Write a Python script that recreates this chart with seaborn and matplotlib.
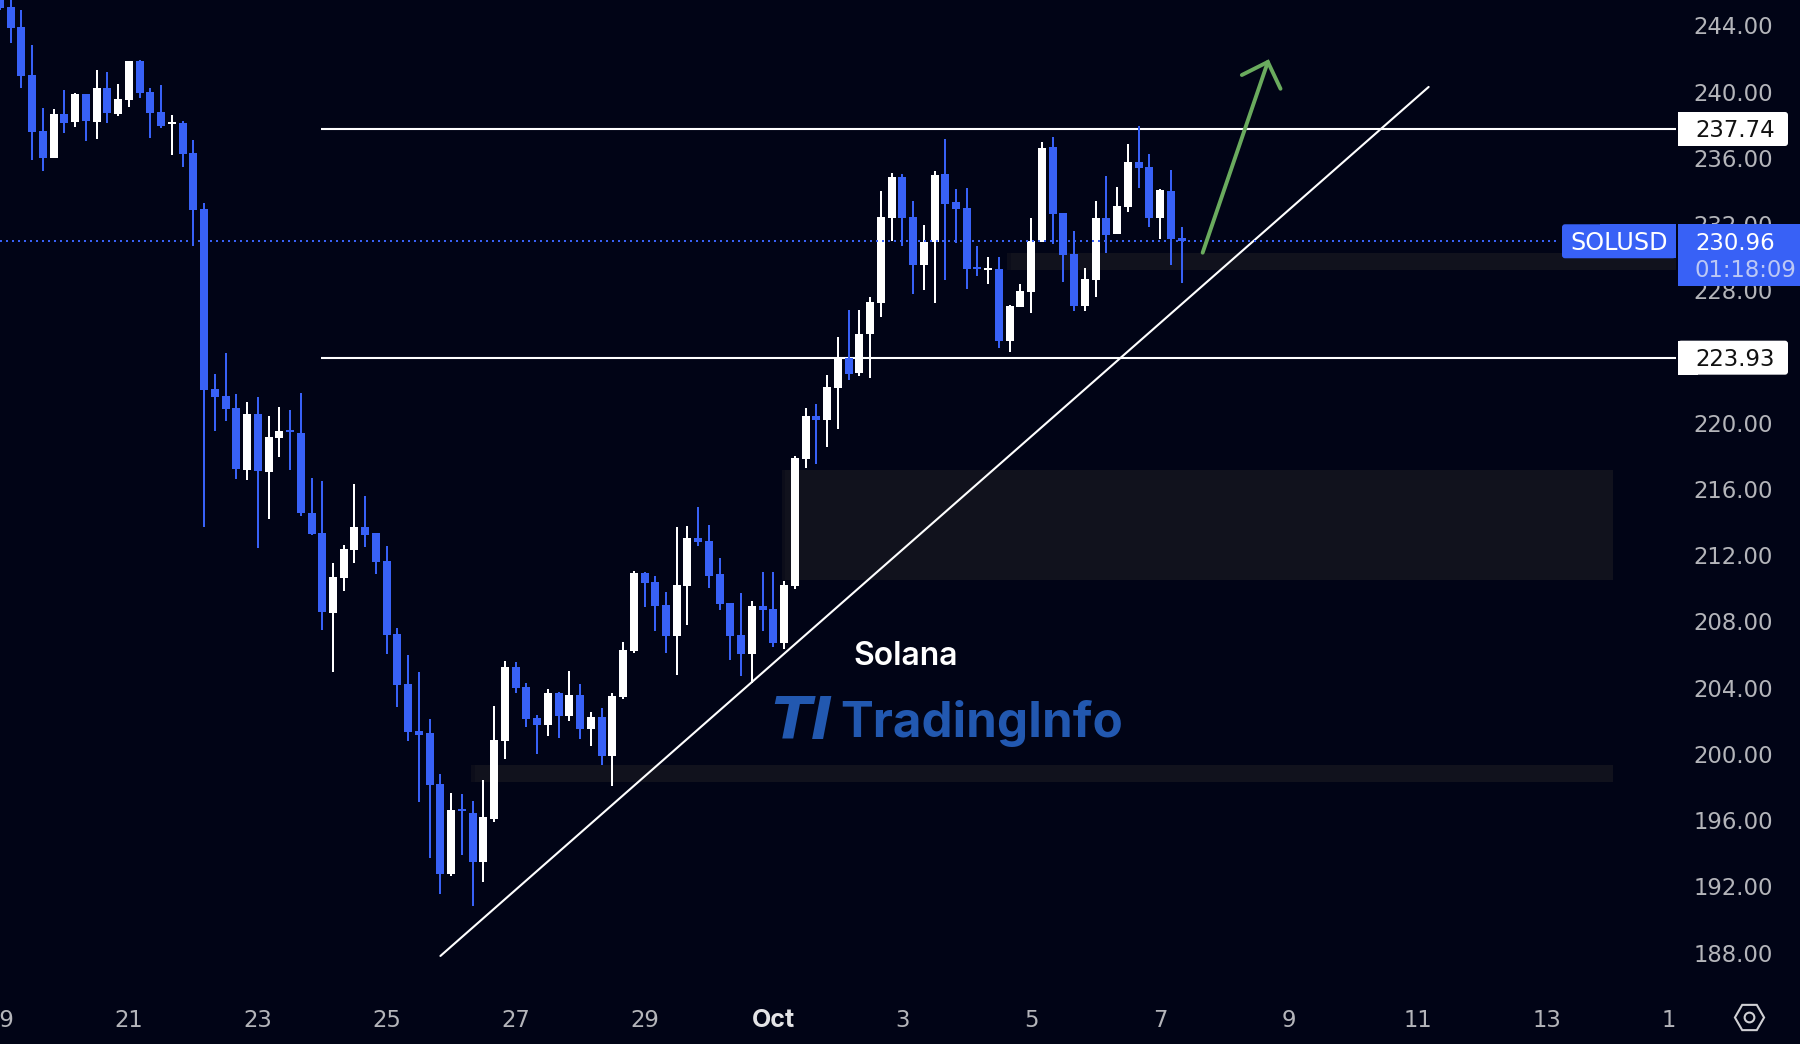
import numpy as np
import pandas as pd
import matplotlib
matplotlib.use('Agg')
import matplotlib.pyplot as plt
from matplotlib.patches import Rectangle, FancyBboxPatch
import seaborn as sns

BG = '#010416'
BLUE = '#3861f6'
GREY = '#b4b5ba'

# 4h candles, first one is half cut off by the left edge
bar_open = [246.00, 245.10, 243.89, 241.00, 237.61, 236.00, 238.65, 238.15, 239.86, 238.15, 240.22, 238.65,
            239.49, 241.84, 239.97, 238.76, 238.07, 238.11, 236.30, 232.91, 222.04, 221.61, 220.90, 217.15,
            220.53, 217.02, 219.09, 219.56, 219.39, 214.56, 213.34, 208.51, 210.62, 212.32, 213.70, 213.34,
            211.65, 207.24, 204.22, 201.38, 201.26, 198.18, 192.75, 196.67, 196.43, 193.47, 196.07, 200.78,
            205.25, 204.04, 202.17, 201.75, 203.68, 202.29, 203.56, 201.51, 202.23, 199.88, 203.44, 206.22,
            210.93, 210.38, 208.99, 207.12, 210.14, 213.04, 212.86, 210.87, 209.11, 207.18, 206.03, 208.93,
            208.75, 206.70, 210.14, 217.81, 220.41, 220.17, 222.10, 223.91, 223.00, 225.36, 227.23, 232.37,
            234.84, 232.43, 229.53, 230.92, 235.02, 233.33, 232.97, 229.41, 229.25, 229.29, 224.94, 226.99,
            227.90, 230.92, 236.65, 232.67, 230.19, 227.05, 228.62, 232.36, 231.40, 233.03, 235.75, 235.44,
            232.36, 234.00, 231.16]
bar_high = [246.30, 245.90, 244.93, 242.81, 239.02, 238.95, 240.09, 239.92, 239.86, 241.30, 241.17, 240.46,
            241.84, 241.91, 240.22, 240.40, 238.58, 238.22, 237.08, 233.28, 222.95, 224.22, 221.74, 221.25,
            221.55, 220.40, 220.94, 220.77, 221.80, 216.67, 216.48, 211.53, 212.62, 216.30, 215.58, 213.34,
            212.56, 207.60, 205.97, 204.95, 202.11, 198.79, 197.64, 197.58, 197.16, 198.43, 202.89, 205.61,
            205.55, 204.28, 202.35, 203.92, 203.74, 205.01, 204.22, 202.53, 202.77, 203.68, 206.76, 211.05,
            210.99, 210.75, 209.78, 213.70, 213.76, 214.91, 213.83, 211.83, 209.11, 209.72, 209.24, 210.99,
            210.99, 210.44, 217.99, 220.89, 221.13, 222.88, 225.18, 226.81, 226.81, 227.59, 233.99, 235.08,
            235.02, 233.39, 231.94, 235.20, 237.14, 234.12, 234.18, 230.67, 230.01, 230.01, 227.11, 228.38,
            232.36, 236.95, 237.26, 232.67, 231.58, 229.35, 233.39, 234.90, 234.24, 236.83, 237.92, 236.23,
            234.12, 235.26, 231.82]
bar_low = [244.90, 242.94, 240.22, 235.87, 235.20, 236.00, 237.51, 237.85, 237.01, 237.14, 238.11, 238.52,
           239.06, 239.62, 237.21, 237.81, 236.17, 235.44, 230.67, 213.69, 219.50, 220.10, 216.61, 216.54,
           212.45, 214.19, 217.92, 217.15, 214.36, 213.22, 207.48, 204.95, 209.84, 211.53, 212.50, 210.87,
           206.03, 202.83, 200.78, 197.10, 193.71, 191.54, 192.63, 193.90, 190.82, 192.27, 195.89, 199.69,
           203.68, 201.63, 200.00, 201.08, 200.96, 201.99, 200.90, 200.48, 199.33, 198.06, 203.32, 206.10,
           208.87, 207.42, 206.10, 204.77, 207.79, 212.56, 210.02, 208.69, 205.67, 204.71, 204.30, 207.42,
           206.46, 206.34, 209.96, 217.27, 217.51, 218.54, 219.62, 222.58, 222.82, 222.70, 226.39, 231.00,
           230.67, 227.77, 228.02, 227.23, 228.62, 230.85, 228.08, 228.86, 228.38, 224.51, 224.27, 226.99,
           226.63, 230.92, 230.79, 228.50, 226.75, 226.75, 227.59, 230.25, 231.40, 232.73, 234.18, 231.82,
           231.10, 229.53, 228.44]
bar_close = [245.06, 243.85, 240.94, 237.55, 236.00, 238.65, 238.11, 239.86, 238.22, 240.22, 238.71, 239.56,
             241.84, 239.92, 238.71, 237.92, 238.15, 236.23, 232.85, 221.98, 221.55, 220.83, 217.21, 220.53,
             217.08, 219.13, 219.50, 219.43, 214.56, 213.29, 208.57, 210.68, 212.38, 213.70, 213.22, 211.59,
             207.18, 204.16, 201.32, 201.14, 198.12, 192.75, 196.61, 196.55, 193.47, 196.19, 200.84, 205.25,
             203.98, 202.11, 201.75, 203.68, 202.29, 203.56, 201.51, 202.23, 199.88, 203.50, 206.28, 210.93,
             210.32, 208.93, 207.12, 210.20, 213.04, 212.80, 210.75, 209.06, 207.12, 206.03, 208.93, 208.69,
             206.70, 210.20, 217.87, 220.41, 220.17, 222.16, 223.85, 222.94, 225.36, 227.29, 232.43, 234.84,
             232.36, 229.53, 230.92, 234.96, 233.21, 232.91, 229.29, 229.29, 229.33, 224.94, 227.05, 227.96,
             230.98, 236.59, 232.61, 230.13, 227.05, 228.68, 232.36, 231.34, 233.09, 235.75, 235.39, 232.36,
             234.06, 231.10, 230.96]
first_bar = -1

# levels and drawings, in bars and prices
level_prices = [237.74, 223.93]
level_start = 28.9
level_end = 155.05
last_price = 230.96
countdown = '01:18:09'
trend_x = [40.0, 132.0]
trend_y = [187.80, 240.28]
arrow_x = [110.96, 117.03]
arrow_y = [230.27, 241.79]
head_x = [114.61, 117.03, 118.21]
head_y = [241.0, 241.79, 240.17]

zone_left = [71.77, 42.86, 92.77]
zone_right = [149.2, 149.2, 155.05]
zone_top = [217.15, 199.33, 230.25]
zone_bottom = [210.5, 198.33, 229.2]

y_ticks = [188, 192, 196, 200, 204, 208, 212, 216, 220, 224, 228, 232, 236, 240, 244]
x_ticks = [-1, 11, 23, 35, 47, 59, 71, 83, 95, 107, 119, 131, 143, 155]
x_labels = ['19', '21', '23', '25', '27', '29', 'Oct', '3', '5', '7', '9', '11', '13', '15']

sns.set_theme(style='dark', rc={'axes.facecolor': BG, 'figure.facecolor': BG, 'axes.grid': False})
plt.rcParams['font.family'] = ['DejaVu Sans']

df = pd.DataFrame({'bar': np.arange(len(bar_open)) + first_bar, 'open': bar_open, 'high': bar_high,
                   'low': bar_low, 'close': bar_close})
df['bottom'] = df[['open', 'close']].min(axis=1)
df['body'] = (df['close'] - df['open']).abs()
up = df[df['close'] >= df['open']]
down = df[df['close'] < df['open']]

fig = plt.figure(figsize=(18, 10.44), dpi=100)
ax = fig.add_axes([0, 46 / 1044, 1, 998 / 1044])

for zl, zr, zt, zb in zip(zone_left, zone_right, zone_top, zone_bottom):
    ax.add_patch(Rectangle((zl, zb), zr - zl, zt - zb, facecolor='#0c0d1a', edgecolor='none', zorder=1))
    ax.add_patch(Rectangle((zl + 0.35, zb), zr - zl - 0.35, zt - zb, facecolor='#11121d', edgecolor='none', zorder=1))

for y in level_prices:
    ax.plot([level_start, level_end], [y, y], color='white', lw=1.5, zorder=2, solid_capstyle='butt')
ax.plot(trend_x, trend_y, color='white', lw=1.5, zorder=2)

for part, col in ((down, BLUE), (up, 'white')):
    ax.vlines(part['bar'], part['low'], part['high'], color=col, lw=1.44, zorder=3)
    sns.barplot(data=part, x='bar', y='body', bottom=part['bottom'].values, native_scale=True, width=0.745,
                color=col, saturation=1, errorbar=None, linewidth=0, ax=ax, zorder=4)

ax.plot([-1, 144.1], [last_price, last_price], color=BLUE, lw=1.44, ls=(0, (1, 2)), zorder=5,
        dash_capstyle='butt')

ax.plot(arrow_x, arrow_y, color='#6aab5e', lw=2.8, solid_capstyle='round', zorder=6)
ax.plot(head_x, head_y, color='#6aab5e', lw=2.8, solid_capstyle='round', solid_joinstyle='miter', zorder=6)

ax.set_xlim(-7.7 / 10.76, 1792.3 / 10.76)
ax.set_ylim(245.53 - 998 * 0.06039, 245.53)
ax.set_xlabel('')
ax.set_ylabel('')
ax.yaxis.tick_right()
ax.set_yticks(y_ticks)
ax.set_yticklabels([f'{v:.2f}' for v in y_ticks], fontsize=16.4, color=GREY, va='center_baseline')
ax.tick_params(axis='y', length=0, pad=-76.5)
ax.set_xticks(x_ticks)
ax.set_xticklabels(x_labels, fontsize=16.4, color=GREY)
ax.tick_params(axis='x', length=0, pad=8)
for lab in ax.get_xticklabels():
    if lab.get_text() == 'Oct':
        lab.set_family(['Inter', 'DejaVu Sans'])
        lab.set_fontweight('bold')
        lab.set_fontsize(18)
        lab.set_color('#e4e4e6')
sns.despine(ax=ax, left=True, bottom=True, right=True, top=True)

# overlay in figure pixels, for the price tags and the watermark
ov = fig.add_axes([0, 0, 1, 1], zorder=10)
ov.set_xlim(0, 1800)
ov.set_ylim(1044, 0)
ov.axis('off')
ov.patch.set_alpha(0)


def price_px(p):
    return 1044 - ax.transData.transform((0, p))[1]


ov.add_patch(Rectangle((1676, 999), 124, 45, facecolor=BG, edgecolor='none'))

for p in level_prices:
    py = price_px(p)
    ov.add_patch(FancyBboxPatch((1678, py - 17), 110, 34, boxstyle='round,pad=0,rounding_size=3',
                                facecolor='white', edgecolor='none'))
    ov.add_patch(Rectangle((1678, py - 17), 20, 34, facecolor='white', edgecolor='none'))
    ov.text(1695, py - 0.5, f'{p:.2f}', color='#111', fontsize=16.4, va='center_baseline', ha='left')

py = price_px(last_price)
ov.add_patch(FancyBboxPatch((1562, py - 17), 114, 34, boxstyle='round,pad=0,rounding_size=3',
                            facecolor=BLUE, edgecolor='none'))
ov.add_patch(Rectangle((1600, py - 17), 76, 34, facecolor=BLUE, edgecolor='none'))
ov.add_patch(Rectangle((1678, py - 17), 122, 62, facecolor=BLUE, edgecolor='none'))
ov.text(1619.5, py - 0.5, 'SOLUSD', color='white', fontsize=17.2, va='center_baseline', ha='center')
ov.text(1695, py - 0.5, f'{last_price:.2f}', color='white', fontsize=16.4, va='center_baseline', ha='left')
ov.text(1694, py + 26.5, countdown, color='#bcc8f5', fontsize=16.4, va='center_baseline', ha='left')

ov.text(905.5, 653, 'Solana', color='white', fontsize=23, family=['Inter', 'DejaVu Sans'], fontweight='semibold',
        va='center_baseline', ha='center')
ov.text(771, 739, 'TI', color='#2258b0', fontsize=42, fontweight='bold', style='oblique', va='baseline', ha='left')
ov.text(840, 737, 'TradingInfo', color='#2258b0', fontsize=35.5, family=['Inter', 'DejaVu Sans'], fontweight='bold',
        va='baseline', ha='left')

ov.plot([1749], [1017], marker='H', ms=21, mfc='none', mec='#d0d0d4', mew=1.5)
ov.plot([1749], [1017], marker='o', ms=7, mfc='none', mec='#d0d0d4', mew=1.5)

fig.savefig('out.png', dpi=100, facecolor=BG)
